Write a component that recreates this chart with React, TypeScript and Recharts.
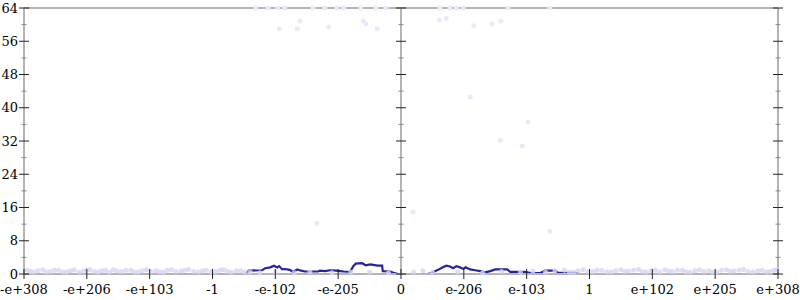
import { ComposedChart, Line, Scatter, XAxis, YAxis, ReferenceLine } from 'recharts';

// tick labels along the bottom, one per integer position 0..12
const xLabels = ['-e+308', '-e+206', '-e+103', '-1', '-e-102', '-e-205', '0', 'e-206', 'e-103', '1', 'e+102', 'e+205', 'e+308'];
const xTicks = [0, 1, 2, 3, 4, 5, 6, 7, 8, 9, 10, 11, 12];
const yTicks = [0, 4, 8, 12, 16, 20, 24, 28, 32, 36, 40, 44, 48, 52, 56, 60, 64];

// histogram outline
const lineX = [0, 3.52, 3.58, 3.79, 3.84, 3.92, 3.98, 4.03, 4.06, 4.11, 4.15, 4.23, 4.28, 4.35, 4.41, 4.47, 4.68, 4.71, 4.79, 4.87, 4.97, 5.03, 5.09, 5.19, 5.24, 5.28, 5.38, 5.44, 5.51, 5.63, 5.7, 5.71, 5.83, 5.9, 5.95, 5.98,
  6.43, 6.49, 6.59, 6.65, 6.72, 6.78, 6.83, 6.88, 6.94, 6.99, 7.03, 7.1, 7.18, 7.26, 7.34, 7.42, 7.5, 7.69, 7.74, 7.97, 8.05, 8.21, 8.29, 8.45, 8.5, 8.77, 8.85, 12];
const lineY = [0, 0, 0.8, 0.9, 1.4, 1.6, 2.0, 1.6, 1.9, 1.1, 1.2, 1.0, 0.5, 1.1, 0.8, 0.6, 0.6, 0.8, 0.7, 0.9, 0.8, 0.7, 0.6, 0.5, 1.9, 2.5, 2.6, 2.1, 2.3, 2.0, 2.0, 0.7, 0.6, 0.2, 0, 0,
  0, 0.3, 1.0, 1.5, 2.0, 1.8, 1.4, 1.9, 1.6, 1.2, 1.6, 1.1, 0.9, 0.7, 0.4, 0.7, 1.1, 1.1, 0.5, 0.5, 0.3, 0.2, 0.8, 0.8, 0.3, 0.3, 0, 0];

// faint samples away from the baseline
const highX = [3.69, 3.88, 4.04, 4.15, 4.6, 4.79, 4.98, 5.09, 5.36, 5.6, 5.76, 6.62, 6.78, 6.88, 6.99, 7.7, 8.37,
  4.39, 4.06, 4.35, 4.85, 5.4, 5.44, 5.62, 6.72, 6.61, 7.16, 7.45, 7.59,
  7.1, 8.02, 7.58, 7.93, 4.66, 6.19, 8.37];
const highY = [64, 64, 64, 64, 64, 64, 64, 64, 64, 64, 64, 64, 64, 64, 64, 64, 64,
  60.9, 59, 59, 59.4, 60.9, 60.2, 59, 61.5, 61.1, 59.7, 60.2, 60.9,
  42.6, 36.6, 32.2, 30.8, 12.2, 14.9, 10.3];

// faint samples along the baseline
const lowX = [0.05, 0.1, 0.15, 0.22, 0.3, 0.36, 0.42, 0.48, 0.55, 0.62, 0.68, 0.74, 0.8, 0.88, 0.95, 1.0, 1.05, 1.12, 1.18, 1.24, 1.3, 1.36, 1.42, 1.48, 1.55, 1.62, 1.7, 1.76, 1.82, 1.88, 1.95, 2.02, 2.1, 2.16, 2.22, 2.28, 2.35, 2.42, 2.5, 2.56, 2.62, 2.7, 2.78, 2.84, 2.9, 2.98, 3.05, 3.12, 3.18, 3.24, 3.3, 3.38, 3.45, 3.52, 3.6, 3.75, 4.0, 4.3, 4.55, 4.9, 5.2, 5.5, 5.8,
  6.2, 6.35, 6.5, 6.9, 7.3, 7.6, 7.9, 8.1, 8.3, 8.45, 8.6, 8.68, 8.75, 8.82, 8.9, 8.98, 9.05, 9.12, 9.2, 9.28, 9.35, 9.42, 9.5, 9.56, 9.62, 9.7, 9.78, 9.84, 9.9, 9.98, 10.05, 10.12, 10.2, 10.26, 10.32, 10.4, 10.48, 10.54, 10.6, 10.68, 10.75, 10.82, 10.9, 10.96, 11.02, 11.1, 11.18, 11.24, 11.3, 11.38, 11.45, 11.52, 11.6, 11.68, 11.75, 11.82, 11.88, 11.94, 11.98];
const lowY = [0.9, 0.6, 0.5, 0.8, 1.0, 0.5, 0.6, 0.9, 0.9, 0.5, 0.4, 0.8, 1.0, 0.5, 0.7, 0.9, 1.1, 0.6, 0.5, 0.8, 0.9, 0.4, 1.0, 0.7, 0.6, 0.9, 0.9, 0.5, 0.5, 0.8, 1.0, 0.6, 0.8, 0.5, 0.4, 0.9, 1.0, 0.6, 0.7, 0.9, 1.1, 0.6, 0.5, 0.8, 0.9, 0.5, 0.6, 0.9, 1.0, 0.6, 0.4, 0.8, 0.8, 0.5, 0.5, 0.3, 0.4, 0.3, 0.5, 0.3, 0.4, 0.5, 0.3,
  0.5, 0.8, 0.4, 0.5, 0.3, 0.6, 0.4, 0.7, 0.5, 0.8, 0.9, 0.5, 0.4, 0.8, 1.0, 0.6, 0.6, 0.9, 0.9, 0.5, 0.5, 0.8, 1.0, 0.6, 0.7, 0.9, 1.1, 0.6, 0.5, 0.8, 0.9, 0.5, 1.0, 0.7, 0.6, 0.9, 0.9, 0.5, 0.4, 0.8, 1.0, 0.6, 0.8, 0.5, 0.5, 0.9, 1.0, 0.6, 0.7, 0.9, 1.1, 0.6, 0.5, 0.8, 0.9, 0.5, 0.6, 0.9, 1.0];

const W = 800;
const H = 300;
const LEFT = 24;
const RIGHT = 778;
const TOP = 8;
const BOTTOM = 274;
const MID = (LEFT + RIGHT) / 2;
const FONT = 'DejaVu Serif';
const GRAY = '#b4b4b4';

const lineData = lineX.map((x, i) => ({ x, y: lineY[i] }));
const highData = highX.map((x, i) => ({ x, y: highY[i] }));
const lowData = lowX.map((x, i) => ({ x, y: lowY[i] }));

const YTick = (props: any) => {
  const { y, payload } = props;
  const major = payload.value % 8 === 0;
  const half = major ? 5 : 2.5;
  const stroke = major ? '#222' : '#888';
  return (
    <g>
      {[LEFT, MID, RIGHT].map((ax) => (
        <line key={ax} x1={ax - half} x2={ax + half} y1={y} y2={y} stroke={stroke} strokeWidth={1} />
      ))}
      {major && (
        <text x={LEFT - 6} y={y} textAnchor="end" dominantBaseline="central" fontFamily={FONT} fontSize={13} fill="#000">
          {payload.value}
        </text>
      )}
    </g>
  );
};

const XTick = (props: any) => {
  const { x, payload } = props;
  return (
    <g>
      <line x1={x} x2={x} y1={BOTTOM - 5} y2={BOTTOM + 5} stroke="#222" strokeWidth={1} />
      <text x={x} y={BOTTOM + 20} textAnchor="middle" fontFamily={FONT} fontSize={13} fill="#000">
        {xLabels[payload.value]}
      </text>
    </g>
  );
};

const HighDot = (props: any) => <circle cx={props.cx} cy={props.cy} r={2.5} fill="#e9e9fa" />;
const LowDot = (props: any) => <circle cx={props.cx} cy={props.cy} r={2.5} fill="#d4d4f4" fillOpacity={0.8} />;

export default function App() {
  return (
    <div style={{ position: 'absolute', left: 0, top: 0, width: W, height: H, background: '#fff' }}>
      <ComposedChart
        width={W}
        height={H}
        margin={{ top: TOP, right: W - RIGHT, bottom: 0, left: 0 }}
      >
        <XAxis
          type="number"
          dataKey="x"
          domain={[0, 12]}
          ticks={xTicks}
          interval={0}
          height={H - BOTTOM}
          axisLine={{ stroke: GRAY, strokeWidth: 2 }}
          tickLine={false}
          tick={<XTick />}
        />
        <YAxis
          type="number"
          domain={[0, 64]}
          ticks={yTicks}
          interval={0}
          width={LEFT}
          axisLine={{ stroke: GRAY, strokeWidth: 2 }}
          tickLine={false}
          tick={<YTick />}
        />
        <ReferenceLine y={64} stroke={GRAY} strokeWidth={2} />
        <ReferenceLine x={6} stroke={GRAY} strokeWidth={2} />
        <ReferenceLine x={12} stroke={GRAY} strokeWidth={2} />
        <Scatter data={highData} dataKey="y" shape={<HighDot />} isAnimationActive={false} />
        <Scatter data={lowData} dataKey="y" shape={<LowDot />} isAnimationActive={false} />
        <Line
          data={lineData}
          dataKey="y"
          type="linear"
          stroke="#2424a0"
          strokeWidth={2.2}
          dot={false}
          isAnimationActive={false}
        />
      </ComposedChart>
    </div>
  );
}
